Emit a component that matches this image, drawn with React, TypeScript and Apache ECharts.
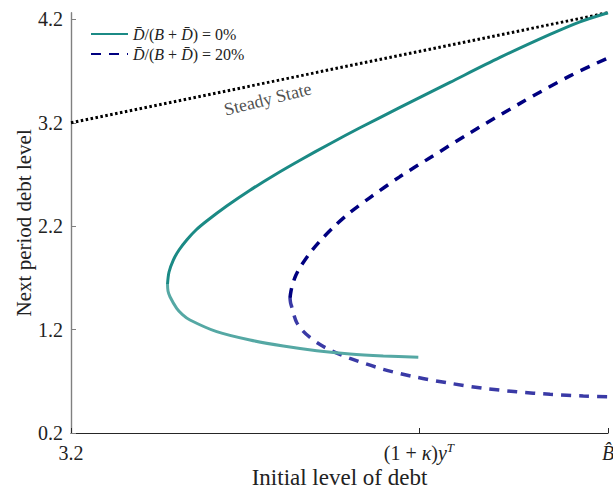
import React, { useEffect, useRef } from "react";
import * as echarts from "echarts";

// Axis extents (45-degree steady-state line runs corner to corner)
const xRange = [3.2, 4.265];
const yRange = [0.2, 4.265];

// Tick positions and their labels
const yTicks = [0.2, 1.2, 2.2, 3.2, 4.2];
const xTicks = [3.2, 3.89, 4.265];
const xTickLabels = ["{n|3.2}", "{n|(1 + }{i|κ}{n|)}{i|y}{sup|T}", "{i|B̂}"];

// Policy functions: next-period debt against initial debt
const share0Upper: [number, number][] = [
  [3.3914, 1.641], [3.3944, 1.757], [3.4029, 1.873], [3.4142, 1.97], [3.4295, 2.067],
  [3.4479, 2.163], [3.4691, 2.25], [3.5088, 2.395], [3.555, 2.548], [3.6046, 2.698],
  [3.6542, 2.838], [3.7136, 2.998], [3.7731, 3.152], [3.8525, 3.349], [3.9516, 3.591],
  [4.0508, 3.832], [4.15, 4.055], [4.2094, 4.177], [4.265, 4.265],
];
const share0Lower: [number, number][] = [
  [3.3914, 1.641], [3.3924, 1.573], [3.3963, 1.518], [3.4096, 1.406], [3.4211, 1.346],
  [3.436, 1.293], [3.489, 1.18], [3.555, 1.099], [3.621, 1.041], [3.6873, 0.996],
  [3.7533, 0.964], [3.8194, 0.945], [3.8888, 0.932],
];
const share20Upper: [number, number][] = [
  [3.6343, 1.506], [3.6363, 1.573], [3.6403, 1.651], [3.6462, 1.728], [3.6542, 1.801],
  [3.674, 1.941], [3.6938, 2.057], [3.7236, 2.205], [3.7533, 2.333], [3.793, 2.477],
  [3.8525, 2.68], [3.912, 2.862], [3.9913, 3.102], [4.0905, 3.388], [4.1896, 3.654],
  [4.265, 3.827],
];
const share20Lower: [number, number][] = [
  [3.6343, 1.506], [3.6355, 1.457], [3.6377, 1.421], [3.6422, 1.341], [3.6476, 1.269],
  [3.6591, 1.191], [3.674, 1.124], [3.6938, 1.056], [3.7136, 1.003], [3.7533, 0.922],
  [3.8194, 0.816], [3.8856, 0.739], [3.9516, 0.681], [4.0177, 0.632], [4.0839, 0.599],
  [4.15, 0.574], [4.216, 0.558], [4.265, 0.551],
];
const steadyState: [number, number][] = [[3.2, 3.2], [4.265, 4.265]];
const steadyStateLabelAt: [number, number] = [3.59, 3.43];

const legendNames = ["share0", "share20"];
const legendTexts: Record<string, string> = {
  share0: "{i|D̄}/({i|B} + {i|D̄}) = 0%",
  share20: "{i|D̄}/({i|B} + {i|D̄}) = 20%",
};

const FONT = "Liberation Serif";
const TEAL = "#1b8a85";
const TEAL_LIGHT = "#55a8a4";
const NAVY = "#000080";
const NAVY_LIGHT = "#3a3aa6";

const near = (a: number, b: number) => Math.abs(a - b) < 1e-6;

export default function App() {
  const ref = useRef<HTMLDivElement>(null);

  useEffect(() => {
    if (!ref.current) return;
    const chart = echarts.init(ref.current, null, { renderer: "svg" });
    const dash = [10, 8];
    const smooth = 0.3;
    chart.setOption({
      animation: false,
      backgroundColor: "#ffffff",
      grid: { left: 71, right: 5, top: 12.7, bottom: 58, outerBoundsMode: "none" },
      legend: {
        data: legendNames,
        orient: "vertical",
        left: 85,
        top: 21,
        itemWidth: 37,
        itemHeight: 14,
        itemGap: 4,
        itemStyle: { opacity: 0 },
        formatter: (name: string) => legendTexts[name],
        textStyle: {
          fontFamily: FONT,
          fontSize: 16,
          lineHeight: 16,
          color: "#222",
          rich: {
            i: { fontFamily: FONT, fontStyle: "italic", fontSize: 16, lineHeight: 16, color: "#222" },
          },
        },
      },
      xAxis: {
        type: "value",
        min: xRange[0],
        max: xRange[1],
        name: "Initial level of debt",
        nameLocation: "middle",
        nameGap: 33,
        nameMoveOverlap: false,
        nameTextStyle: { fontFamily: FONT, fontSize: 23, color: "#222" },
        axisLine: { show: true, lineStyle: { color: "#262626", width: 1.2 } },
        axisTick: { show: true, inside: true, length: 5, customValues: xTicks, lineStyle: { color: "#262626" } },
        axisLabel: {
          customValues: xTicks,
          margin: 8,
          fontFamily: FONT,
          fontSize: 20,
          color: "#222",
          formatter: (v: number) => {
            const k = xTicks.findIndex((t) => near(t, v));
            return k >= 0 ? xTickLabels[k] : "";
          },
          rich: {
            n: { fontFamily: FONT, fontSize: 20, color: "#222", lineHeight: 24 },
            i: { fontFamily: FONT, fontStyle: "italic", fontSize: 20, color: "#222", lineHeight: 24 },
            sup: { fontFamily: FONT, fontStyle: "italic", fontSize: 13, color: "#222", lineHeight: 14, verticalAlign: "top" },
          },
        },
        splitLine: { show: false },
      },
      yAxis: {
        type: "value",
        min: yRange[0],
        max: yRange[1],
        name: "Next period debt level",
        nameLocation: "middle",
        nameGap: 37,
        nameMoveOverlap: false,
        nameRotate: 90,
        nameTextStyle: { fontFamily: FONT, fontSize: 21, color: "#222" },
        axisLine: { show: true, lineStyle: { color: "#808080", width: 1.4 } },
        axisTick: { show: true, inside: true, length: 5, customValues: yTicks, lineStyle: { color: "#808080" } },
        axisLabel: {
          customValues: yTicks,
          margin: 8,
          fontFamily: FONT,
          fontSize: 20,
          color: "#222",
          formatter: (v: number) => (yTicks.some((t) => near(t, v)) ? v.toFixed(1) : ""),
        },
        splitLine: { show: false },
      },
      series: [
        {
          name: "steady",
          type: "line",
          data: steadyState,
          symbol: "none",
          lineStyle: { color: "#000", width: 3, type: [2.5, 2.5] },
          z: 1,
        },
        {
          name: "steadyLabel",
          type: "scatter",
          data: [steadyStateLabelAt],
          symbolSize: 0,
          label: {
            show: true,
            position: "inside",
            rotate: 14,
            formatter: "Steady State",
            fontFamily: FONT,
            fontSize: 18,
            color: "#222",
          },
          silent: true,
        },
        {
          name: "share20",
          type: "line",
          data: share20Upper,
          symbol: "none",
          smooth,
          color: NAVY,
          lineStyle: { color: NAVY, width: 3.5, type: dash },
          z: 2,
        },
        {
          name: "share20Lower",
          type: "line",
          data: share20Lower,
          symbol: "none",
          smooth,
          lineStyle: { color: NAVY_LIGHT, width: 3.5, type: dash },
          z: 2,
        },
        {
          name: "share0",
          type: "line",
          data: share0Upper,
          symbol: "none",
          smooth,
          color: TEAL,
          lineStyle: { color: TEAL, width: 3 },
          z: 3,
        },
        {
          name: "share0Lower",
          type: "line",
          data: share0Lower,
          symbol: "none",
          smooth,
          lineStyle: { color: TEAL_LIGHT, width: 3 },
          z: 3,
        },
      ],
    });
    return () => chart.dispose();
  }, []);

  return (
    <div
      ref={ref}
      style={{ position: "absolute", left: 0, top: 0, width: 613, height: 491 }}
    />
  );
}
